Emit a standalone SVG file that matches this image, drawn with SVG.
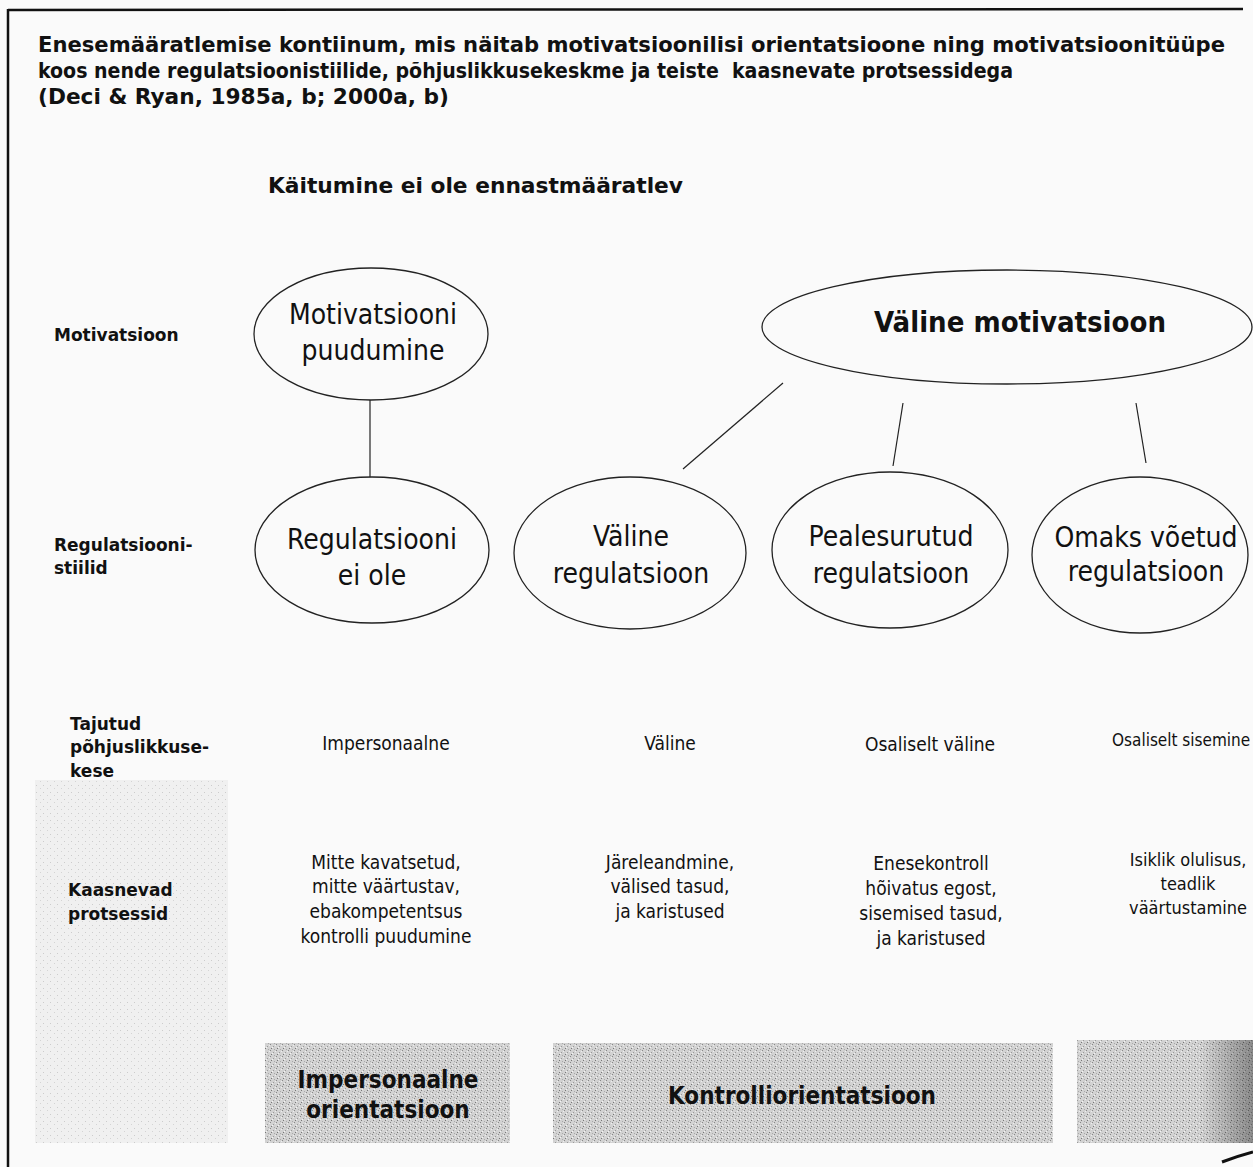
<svg xmlns="http://www.w3.org/2000/svg" width="1253" height="1167" viewBox="0 0 1253 1167">
<style>
.t{font-family:"DejaVu Sans Condensed","DejaVu Sans",sans-serif;fill:#111;}
.b{font-weight:bold;}
.title{font-size:22px;font-weight:bold;white-space:pre;}
.lab{font-family:"DejaVu Sans",sans-serif;font-size:17px;font-weight:bold;}
.ell{font-size:28px;}
.sm{font-size:19px;}
.sm2{font-size:18px;}
.box{font-size:24px;font-weight:bold;}
.node{fill:none;stroke:#222;stroke-width:1.3;}
.conn line{stroke:#222;stroke-width:1.2;}
</style>
<defs>
<pattern id="stip" width="6" height="6" patternUnits="userSpaceOnUse">
<rect width="6" height="6" fill="#d2d2d2"/>
<rect x="0" y="0" width="1" height="1" fill="#888"/>
<rect x="3" y="2" width="1" height="1" fill="#999"/>
<rect x="1" y="4" width="1" height="1" fill="#777"/>
<rect x="4" y="5" width="1" height="1" fill="#aaa"/>
<rect x="5" y="1" width="1" height="1" fill="#eee"/>
<rect x="2" y="3" width="1" height="1" fill="#f4f4f4"/>
</pattern>
<pattern id="stipL" width="7" height="7" patternUnits="userSpaceOnUse">
<rect width="7" height="7" fill="#f0f0f0"/>
<rect x="1" y="1" width="1" height="1" fill="#ccc"/>
<rect x="5" y="4" width="1" height="1" fill="#d4d4d4"/>
</pattern>
<linearGradient id="edge" x1="0" y1="0" x2="1" y2="0">
<stop offset="0.7" stop-color="#000" stop-opacity="0"/>
<stop offset="1" stop-color="#000" stop-opacity="0.35"/>
</linearGradient>
</defs>
<rect width="1253" height="1167" fill="#fafafa"/>
<g id="frame" fill="none" stroke="#111">
<line x1="8" y1="10" x2="1243" y2="9" stroke-width="2.5"/>
<line x1="8" y1="9" x2="8" y2="1167" stroke-width="2.5"/>
<path d="M1222 1162 Q1238 1156 1253 1152" stroke-width="3"/>
</g>
<g id="title">
<text class="t title" x="38" y="52" textLength="1187" lengthAdjust="spacingAndGlyphs">Enesemääratlemise kontiinum, mis näitab motivatsioonilisi orientatsioone ning motivatsioonitüüpe</text>
<text class="t title" x="38" y="78" textLength="975" lengthAdjust="spacingAndGlyphs">koos nende regulatsioonistiilide, põhjuslikkusekeskme ja teiste  kaasnevate protsessidega</text>
<text class="t title" x="38" y="104" textLength="411" lengthAdjust="spacingAndGlyphs">(Deci &amp; Ryan, 1985a, b; 2000a, b)</text>
</g>
<g id="subtitle"><text class="t title" x="268" y="193" textLength="415" lengthAdjust="spacingAndGlyphs">Käitumine ei ole ennastmääratlev</text></g>
<rect id="leftshade" x="35" y="780" width="193" height="363" fill="url(#stipL)"/>
<g id="rowlabels">
<text class="t lab" x="54" y="341">Motivatsioon</text>
<text class="t lab" x="54" y="551">Regulatsiooni-</text>
<text class="t lab" x="54" y="574">stiilid</text>
<text class="t lab" x="70" y="730">Tajutud</text>
<text class="t lab" x="70" y="753">põhjuslikkuse-</text>
<text class="t lab" x="70" y="777">kese</text>
<text class="t lab" x="68" y="896">Kaasnevad</text>
<text class="t lab" x="68" y="920">protsessid</text>
</g>
<g class="conn" id="connectors">
<line x1="370" y1="400" x2="370" y2="477"/>
<line x1="783" y1="383" x2="683" y2="469"/>
<line x1="903" y1="403" x2="893" y2="466"/>
<line x1="1136" y1="403" x2="1146" y2="463"/>
</g>
<g id="n-amot">
<ellipse class="node" cx="371" cy="334" rx="117" ry="66"/>
<text class="t ell" x="373" y="324" text-anchor="middle">Motivatsiooni</text>
<text class="t ell" x="373" y="360" text-anchor="middle">puudumine</text>
</g>
<g id="n-extmot">
<ellipse class="node" cx="1007" cy="327" rx="245" ry="57"/>
<text class="t b" x="1020" y="332" text-anchor="middle" font-size="29">Väline motivatsioon</text>
</g>
<g id="n-noreg">
<ellipse class="node" cx="372" cy="550" rx="117" ry="73"/>
<text class="t ell" x="372" y="549" text-anchor="middle">Regulatsiooni</text>
<text class="t ell" x="372" y="585" text-anchor="middle">ei ole</text>
</g>
<g id="n-extreg">
<ellipse class="node" cx="630" cy="553" rx="116" ry="76"/>
<text class="t ell" x="631" y="546" text-anchor="middle">Väline</text>
<text class="t ell" x="631" y="583" text-anchor="middle">regulatsioon</text>
</g>
<g id="n-introreg">
<ellipse class="node" cx="890" cy="550" rx="118" ry="78"/>
<text class="t ell" x="891" y="546" text-anchor="middle">Pealesurutud</text>
<text class="t ell" x="891" y="583" text-anchor="middle">regulatsioon</text>
</g>
<g id="n-identreg">
<ellipse class="node" cx="1140" cy="555" rx="108" ry="78"/>
<text class="t ell" x="1146" y="547" text-anchor="middle">Omaks võetud</text>
<text class="t ell" x="1146" y="581" text-anchor="middle">regulatsioon</text>
</g>
<g id="locus">
<text class="t sm" x="386" y="750" text-anchor="middle">Impersonaalne</text>
<text class="t sm" x="670" y="750" text-anchor="middle">Väline</text>
<text class="t sm" x="930" y="751" text-anchor="middle">Osaliselt väline</text>
<text class="t" x="1112" y="746" font-size="17">Osaliselt sisemine</text>
</g>
<g id="processes">
<text class="t sm" x="386" y="869" text-anchor="middle">Mitte kavatsetud,</text>
<text class="t sm" x="386" y="893" text-anchor="middle">mitte väärtustav,</text>
<text class="t sm" x="386" y="918" text-anchor="middle">ebakompetentsus</text>
<text class="t sm" x="386" y="943" text-anchor="middle">kontrolli puudumine</text>
<text class="t sm" x="670" y="869" text-anchor="middle">Järeleandmine,</text>
<text class="t sm" x="670" y="893" text-anchor="middle">välised tasud,</text>
<text class="t sm" x="670" y="918" text-anchor="middle">ja karistused</text>
<text class="t sm" x="931" y="870" text-anchor="middle">Enesekontroll</text>
<text class="t sm" x="931" y="895" text-anchor="middle">hõivatus egost,</text>
<text class="t sm" x="931" y="920" text-anchor="middle">sisemised tasud,</text>
<text class="t sm" x="931" y="945" text-anchor="middle">ja karistused</text>
<text class="t sm2" x="1188" y="866" text-anchor="middle">Isiklik olulisus,</text>
<text class="t sm2" x="1188" y="890" text-anchor="middle">teadlik</text>
<text class="t sm2" x="1188" y="914" text-anchor="middle">väärtustamine</text>
</g>
<g id="orient-imp">
<rect x="265" y="1043" width="245" height="100" fill="url(#stip)"/>
<text class="t box" x="388" y="1088" text-anchor="middle">Impersonaalne</text>
<text class="t box" x="388" y="1118" text-anchor="middle">orientatsioon</text>
</g>
<g id="orient-ctrl">
<rect x="553" y="1043" width="500" height="100" fill="url(#stip)"/>
<text class="t box" x="802" y="1104" text-anchor="middle">Kontrolliorientatsioon</text>
</g>
<g id="orient-aut">
<rect x="1077" y="1040" width="176" height="103" fill="url(#stip)"/>
<rect x="1077" y="1040" width="176" height="103" fill="url(#edge)"/>
</g>
</svg>
